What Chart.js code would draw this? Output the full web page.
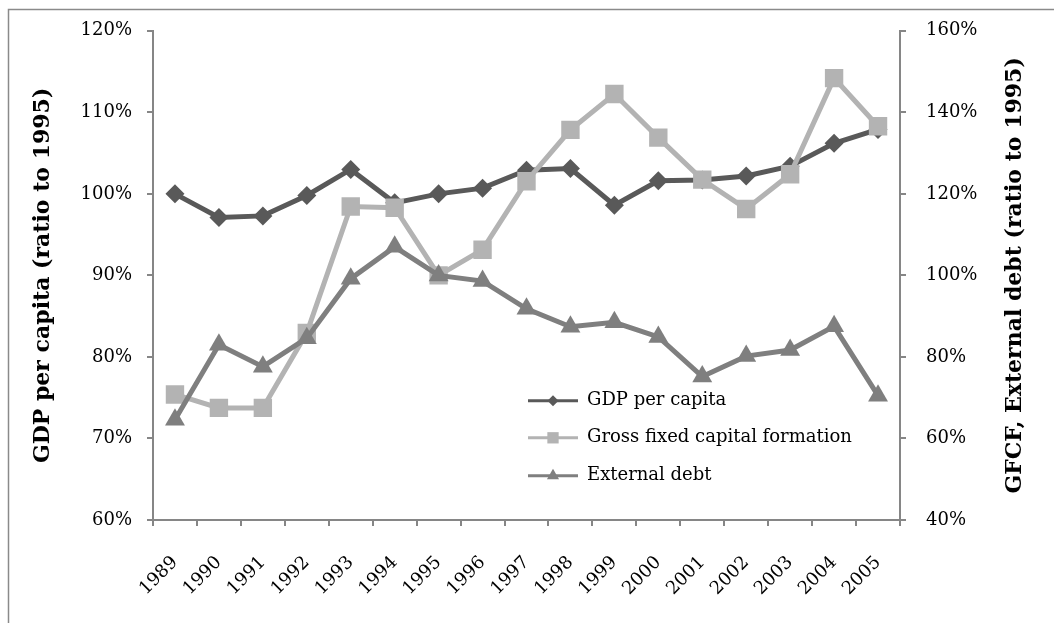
<!DOCTYPE html>
<html><head><meta charset="utf-8">
<script src="https://cdn.jsdelivr.net/npm/chart.js@4/dist/chart.umd.min.js"></script>
<style>html,body{margin:0;padding:0;background:#fff}</style>
</head><body>
<canvas id="c" width="1054" height="623"></canvas>
<script>
const years = ['1989','1990','1991','1992','1993','1994','1995','1996','1997','1998','1999','2000','2001','2002','2003','2004','2005'];
const gdpPerCapita = [100.0, 97.1, 97.3, 99.8, 103.0, 98.9, 100.0, 100.7, 102.9, 103.1, 98.6, 101.6, 101.7, 102.2, 103.4, 106.2, 107.9];
const grossFixedCapital = [70.8, 67.5, 67.5, 85.9, 116.9, 116.6, 100.0, 106.3, 123.1, 135.7, 144.5, 133.8, 123.5, 116.3, 124.8, 148.4, 136.6];
const externalDebt = [64.6, 83.0, 77.6, 84.6, 99.2, 107.0, 100.0, 98.6, 91.8, 87.4, 88.5, 84.9, 75.2, 80.2, 81.7, 87.5, 70.5];
const seriesNames = ['GDP per capita', 'Gross fixed capital formation', 'External debt'];
const leftTitle = 'GDP per capita (ratio to 1995)';
const rightTitle = 'GFCF, External debt (ratio to 1995)';

const FONT = '"DejaVu Serif", "Liberation Serif", serif';
const AXIS = '#868686';

const framePlugin = {
  id: 'frame',
  beforeDraw(chart) {
    const ctx = chart.ctx;
    ctx.save();
    ctx.fillStyle = '#fff';
    ctx.fillRect(0, 0, chart.width, chart.height);
    ctx.strokeStyle = '#8a8a8a';
    ctx.lineWidth = 1.5;
    ctx.strokeRect(8.5, 9.5, chart.width + 20, chart.height + 20);
    ctx.restore();
  },
  afterDraw(chart) {
    const ctx = chart.ctx;
    const a = chart.chartArea;
    ctx.save();
    ctx.font = 'bold 22px ' + FONT;
    ctx.fillStyle = '#000';
    ctx.textAlign = 'center';
    ctx.textBaseline = 'middle';
    ctx.translate(1015, (a.top + a.bottom) / 2);
    ctx.rotate(-Math.PI / 2);
    ctx.fillText(rightTitle, 0, 0);
    ctx.restore();
  }
};

const legendPlugin = {
  id: 'innerLegend',
  afterDatasetsDraw(chart) {
    const ctx = chart.ctx;
    const a = chart.chartArea;
    const x0 = a.left + 375, x1 = a.left + 425, tx = a.left + 434;
    const rows = [a.top + 370, a.top + 407, a.top + 445];
    const radii = [5.5, 8, 7];
    chart.data.datasets.forEach((ds, i) => {
      const y = rows[i];
      ctx.save();
      ctx.strokeStyle = ds.borderColor;
      ctx.lineWidth = 3;
      ctx.beginPath(); ctx.moveTo(x0, y); ctx.lineTo(x1, y); ctx.stroke();
      ctx.fillStyle = ds.pointBackgroundColor;
      ctx.strokeStyle = ds.pointBorderColor;
      Chart.helpers.drawPoint(ctx, {pointStyle: ds.pointStyle, radius: radii[i], borderWidth: 0, rotation: 0}, (x0 + x1) / 2, y);
      ctx.fillStyle = '#000';
      ctx.font = '18px ' + FONT;
      ctx.textAlign = 'left';
      ctx.textBaseline = 'middle';
      ctx.fillText(ds.label, tx, y);
      ctx.restore();
    });
  }
};

new Chart(document.getElementById('c'), {
  type: 'line',
  data: {
    labels: years,
    datasets: [
      {label: seriesNames[0], data: gdpPerCapita, yAxisID: 'y', order: 3,
       borderColor: '#595959', backgroundColor: '#595959', pointBackgroundColor: '#595959', pointBorderColor: '#595959',
       borderWidth: 5, pointStyle: 'rectRot', pointRadius: 9.5, pointBorderWidth: 0, tension: 0},
      {label: seriesNames[1], data: grossFixedCapital, yAxisID: 'y1', order: 2,
       borderColor: '#b3b3b3', backgroundColor: '#b3b3b3', pointBackgroundColor: '#b3b3b3', pointBorderColor: '#b3b3b3',
       borderWidth: 5, pointStyle: 'rect', pointRadius: 13, pointBorderWidth: 0, tension: 0},
      {label: seriesNames[2], data: externalDebt, yAxisID: 'y1', order: 1,
       borderColor: '#7f7f7f', backgroundColor: '#7f7f7f', pointBackgroundColor: '#7f7f7f', pointBorderColor: '#7f7f7f',
       borderWidth: 5, pointStyle: 'triangle', pointRadius: 11.5, pointBorderWidth: 0, tension: 0}
    ]
  },
  options: {
    responsive: false,
    animation: false,
    layout: {padding: {top: 27, left: 10, right: 10, bottom: 0}},
    plugins: {legend: {display: false}, tooltip: {enabled: false}},
    scales: {
      x: {
        offset: true,
        grid: {drawOnChartArea: false, drawTicks: true, tickLength: 6, color: AXIS, lineWidth: 2, offset: true},
        border: {color: AXIS, width: 2},
        ticks: {font: {family: FONT, size: 18}, color: '#000', minRotation: 45, maxRotation: 45, padding: 26, autoSkip: false},
        afterFit(s) { s.height = 103; }
      },
      y: {
        position: 'left', min: 60, max: 120,
        grid: {drawOnChartArea: false, drawTicks: true, tickLength: 6, color: AXIS, lineWidth: 2},
        border: {color: AXIS, width: 2},
        ticks: {stepSize: 10, font: {family: FONT, size: 18}, color: '#000', padding: 15, callback: v => v + '%'},
        title: {display: true, text: leftTitle, font: {family: FONT, size: 22, weight: 'bold'}, color: '#000', padding: {top: 20, bottom: 0}},
        afterFit(s) { s.width = 143; }
      },
      y1: {
        position: 'right', min: 40, max: 160,
        grid: {drawOnChartArea: false, drawTicks: true, tickLength: 6, color: AXIS, lineWidth: 2},
        border: {color: AXIS, width: 2},
        ticks: {stepSize: 20, font: {family: FONT, size: 18}, color: '#000', padding: 20, callback: v => v + '%'},
        afterFit(s) { s.width = 144; }
      }
    }
  },
  plugins: [framePlugin, legendPlugin]
});
</script>
</body></html>
